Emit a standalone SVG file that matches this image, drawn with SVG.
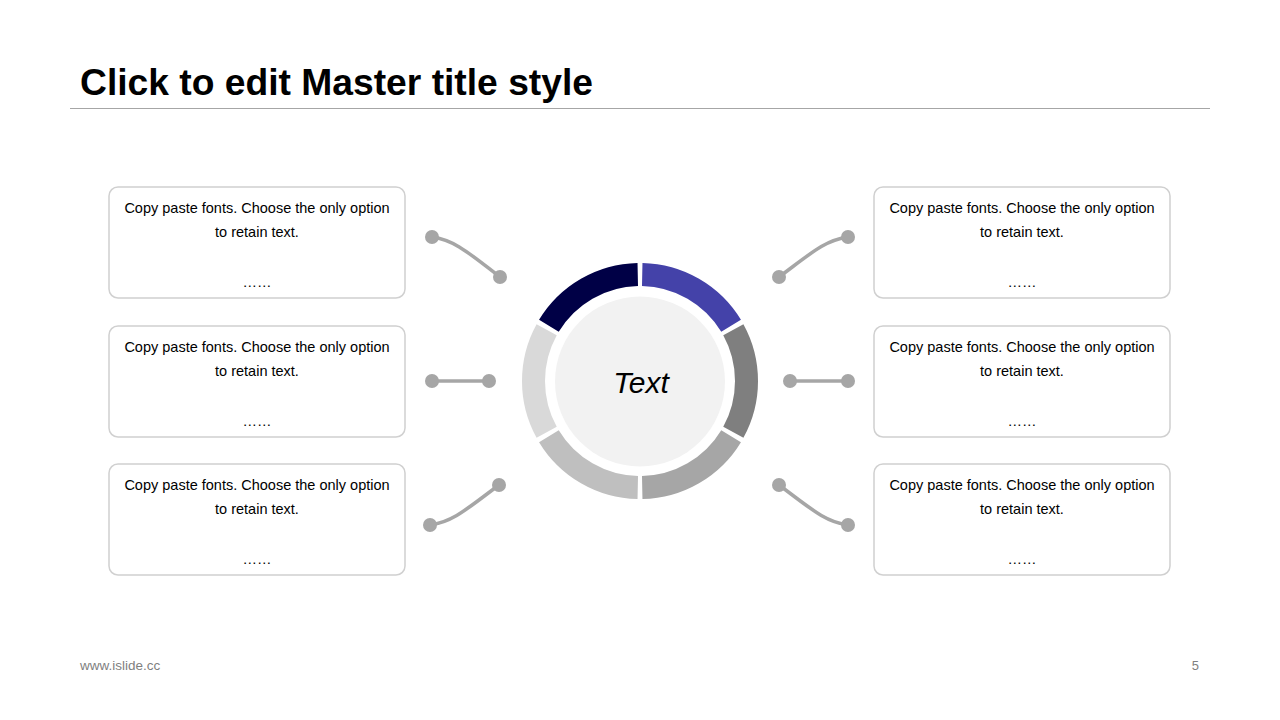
<svg xmlns="http://www.w3.org/2000/svg" width="1280" height="720" viewBox="0 0 1280 720">
<style>
.box{fill:#fff;stroke:#D0D0D0;stroke-width:1.5}
.bt{font-family:"Liberation Sans",Arial,sans-serif;font-size:14.5px;fill:#000;text-anchor:middle}
.con{fill:none;stroke:#A6A6A6;stroke-width:3.5;stroke-linecap:round}
.dot{fill:#A6A6A6}
.seg{fill:none;stroke-width:23}
</style>
<rect width="1280" height="720" fill="#fff"/>
<text x="80" y="95" font-family="Liberation Sans,Arial,sans-serif" font-weight="bold" font-size="36" fill="#000" textLength="513" lengthAdjust="spacingAndGlyphs">Click to edit Master title style</text>
<line x1="70" y1="108.5" x2="1210" y2="108.5" stroke="#A6A6A6" stroke-width="1"/>

<g id="ring">
<path class="seg" stroke="#4442A9" d="M642.23 274.52 A106.5 106.5 0 0 1 731.11 325.83"/>
<path class="seg" stroke="#7F7F7F" d="M733.33 329.69 A106.5 106.5 0 0 1 733.33 432.31"/>
<path class="seg" stroke="#A6A6A6" d="M731.11 436.17 A106.5 106.5 0 0 1 642.23 487.48"/>
<path class="seg" stroke="#BFBFBF" d="M637.77 487.48 A106.5 106.5 0 0 1 548.89 436.17"/>
<path class="seg" stroke="#D9D9D9" d="M546.67 432.31 A106.5 106.5 0 0 1 546.67 329.69"/>
<path class="seg" stroke="#000046" d="M548.89 325.83 A106.5 106.5 0 0 1 637.77 274.52"/>
</g>
<g id="center">
<circle cx="640" cy="381.5" r="85" fill="#F2F2F2"/>
<text x="641" y="393" font-family="Liberation Sans,Arial,sans-serif" font-style="italic" font-size="30" text-anchor="middle" fill="#000">Text</text>
</g>

<g id="connectors">
<path class="con" d="M432 237 C455 240 470 254 500 277"/>
<circle class="dot" cx="432" cy="237" r="7"/><circle class="dot" cx="500" cy="277" r="7"/>
<path class="con" d="M432 381 L489 381"/>
<circle class="dot" cx="432" cy="381" r="7"/><circle class="dot" cx="489" cy="381" r="7"/>
<path class="con" d="M430 525 C453 522 468 508 499 485"/>
<circle class="dot" cx="430" cy="525" r="7"/><circle class="dot" cx="499" cy="485" r="7"/>
<path class="con" d="M848 237 C825 240 810 254 779 277"/>
<circle class="dot" cx="848" cy="237" r="7"/><circle class="dot" cx="779" cy="277" r="7"/>
<path class="con" d="M790 381 L848 381"/>
<circle class="dot" cx="790" cy="381" r="7"/><circle class="dot" cx="848" cy="381" r="7"/>
<path class="con" d="M779 485 C810 508 825 522 848 525"/>
<circle class="dot" cx="779" cy="485" r="7"/><circle class="dot" cx="848" cy="525" r="7"/>
</g>

<g id="box-l1">
<rect class="box" x="109" y="187" width="296" height="111" rx="9"/>
<text class="bt" x="257" y="213">Copy paste fonts. Choose the only option</text>
<text class="bt" x="257" y="237">to retain text.</text>
<text class="bt" x="257" y="287">……</text>
</g>
<g id="box-l2">
<rect class="box" x="109" y="326" width="296" height="111" rx="9"/>
<text class="bt" x="257" y="352">Copy paste fonts. Choose the only option</text>
<text class="bt" x="257" y="376">to retain text.</text>
<text class="bt" x="257" y="426">……</text>
</g>
<g id="box-l3">
<rect class="box" x="109" y="464" width="296" height="111" rx="9"/>
<text class="bt" x="257" y="490">Copy paste fonts. Choose the only option</text>
<text class="bt" x="257" y="514">to retain text.</text>
<text class="bt" x="257" y="564">……</text>
</g>
<g id="box-r1">
<rect class="box" x="874" y="187" width="296" height="111" rx="9"/>
<text class="bt" x="1022" y="213">Copy paste fonts. Choose the only option</text>
<text class="bt" x="1022" y="237">to retain text.</text>
<text class="bt" x="1022" y="287">……</text>
</g>
<g id="box-r2">
<rect class="box" x="874" y="326" width="296" height="111" rx="9"/>
<text class="bt" x="1022" y="352">Copy paste fonts. Choose the only option</text>
<text class="bt" x="1022" y="376">to retain text.</text>
<text class="bt" x="1022" y="426">……</text>
</g>
<g id="box-r3">
<rect class="box" x="874" y="464" width="296" height="111" rx="9"/>
<text class="bt" x="1022" y="490">Copy paste fonts. Choose the only option</text>
<text class="bt" x="1022" y="514">to retain text.</text>
<text class="bt" x="1022" y="564">……</text>
</g>

<text x="80" y="670" font-family="Liberation Sans,Arial,sans-serif" font-size="13.5" fill="#7F7F7F">www.islide.cc</text>
<text x="1199" y="670" font-family="Liberation Sans,Arial,sans-serif" font-size="13" fill="#7F7F7F" text-anchor="end">5</text>
</svg>
